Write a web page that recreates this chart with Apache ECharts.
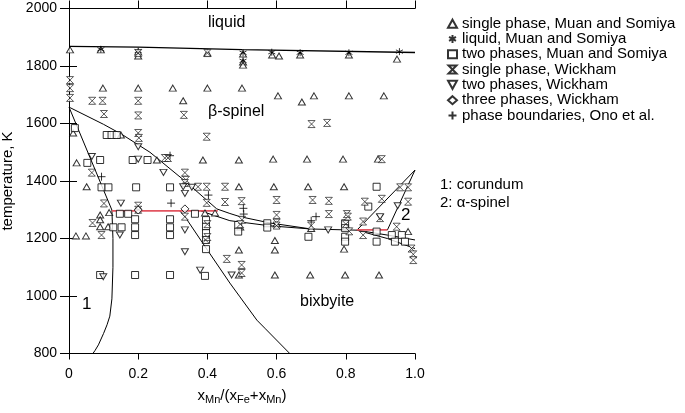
<!DOCTYPE html>
<html><head><meta charset="utf-8">
<script src="https://cdn.jsdelivr.net/npm/echarts@6/dist/echarts.min.js"></script>
<style>html,body{margin:0;padding:0;background:#fff}#c{width:685px;height:413px}</style>
</head><body><div id="c"></div>
<script>
// ---- tick labels ----
const xTicks = [0, 0.2, 0.4, 0.6, 0.8, 1.0];
const xTickLabels = ['0', '0.2', '0.4', '0.6', '0.8', '1.0'];
const yTicks = [800, 1000, 1200, 1400, 1600, 1800, 2000];

// ---- phase boundary lines [x, T] ----
const liquidus = [[0,1868],[0.2,1866],[0.5,1857],[1,1847]];
const betaUpper = [[0,1657],[0.1,1597],[0.153,1562],[0.234,1500],[0.335,1400],[0.427,1303],[0.465,1287],[0.494,1276],[0.581,1254],[0.70,1233],[0.832,1229]];
const lowerBranch = [[0.38,1296],[0.465,1262],[0.581,1244],[0.70,1233]];
const bixbyiteBoundary = [[0.32,1296],[0.335,1276],[0.40,1160],[0.465,1045],[0.494,997],[0.543,916],[0.566,888],[0.638,800]];
const corundumBoundary = [[0,1657],[0.124,1299],[0.127,1200],[0.127,1100],[0.124,990],[0.118,930],[0.11,900],[0.1,870],[0.085,830],[0.075,810],[0.069,800]];
const alphaLeft = [[0.832,1229],[1,1438]];
const alphaRight = [[0.92,1229],[1,1438]];
const rightLowerA = [[0.832,1229],[0.92,1212],[1,1195]];
const rightLowerB = [[0.832,1229],[0.92,1200],[1,1165]];
const redLineLeft = [[0.124,1296],[0.43,1296]];
const redLineRight = [[0.832,1230],[0.92,1230]];

// ---- measured points [x, T] ----
const singleMuan = [[0.003,1856],[0.092,1856],[0.2,1849],[0.2,1835],[0.4,1845],[0.503,1842],[0.503,1814],[0.503,1803],[0.587,1838],[0.607,1835],[0.668,1838],[0.809,1838],[0.948,1824],
[0.098,1723],[0.2,1723],[0.3,1723],[0.4,1723],[0.5,1723],
[0.604,1696],[0.673,1675],[0.708,1696],[0.809,1696],[0.91,1696],[0.33,1679],
[0.012,1567],[0.15,1560],
[0.022,1463],[0.254,1473],[0.387,1473],[0.491,1473],[0.59,1476],[0.688,1476],[0.792,1476],[0.893,1476],
[0.051,1380],[0.491,1380],[0.592,1380],[0.691,1380],[0.795,1380],
[0.09,1282],[0.09,1265],[0.116,1290],[0.09,1241],[0.113,1241],[0.02,1209],[0.049,1209],[0.393,1289],[0.422,1289],
[0.495,1240],[0.6,1250],[0.7,1235],[0.8,1240],[0.98,1224],
[0.491,1160],[0.595,1193],[0.595,1160],[0.795,1163],
[0.491,1073],[0.595,1073],[0.697,1073],[0.798,1073],[0.896,1073]];
const liquidMuan = [[0.092,1858],[0.2,1852],[0.503,1846],[0.503,1818],[0.586,1848],[0.668,1846],[0.809,1846],[0.955,1850]];
const twoMuan = [[0.017,1584],[0.109,1560],[0.123,1560],[0.138,1560],[0.053,1463],[0.09,1473],[0.184,1473],[0.227,1473],
[0.094,1378],[0.114,1378],[0.194,1378],[0.292,1378],
[0.147,1286],[0.171,1286],[0.191,1267],[0.191,1239],[0.191,1212],[0.292,1267],[0.292,1239],[0.292,1212],[0.128,1239],[0.152,1239],[0.364,1286],
[0.396,1264],[0.396,1241],[0.396,1219],[0.396,1195],[0.396,1163],
[0.09,1073],[0.191,1073],[0.292,1073],[0.393,1070],
[0.489,1247],[0.489,1224],[0.573,1253],[0.573,1238],[0.692,1206],[0.798,1253],[0.798,1236],[0.798,1206],[0.798,1189],
[0.889,1380],[0.865,1311],[0.889,1224],[0.889,1189],[0.933,1212],[0.962,1212],[0.942,1189],[0.971,1189]];
const singleWickham = [[0.003,1751],[0.003,1723],[0.003,1689],[0.2,1845],[0.4,1845],
[0.067,1679],[0.097,1679],[0.2,1679],[0.101,1633],[0.2,1628],[0.332,1630],
[0.2,1567],[0.202,1550],[0.398,1554],[0.701,1598],[0.746,1602],
[0.066,1429],[0.335,1429],[0.277,1480],[0.286,1480],[0.904,1476],
[0.101,1322],[0.2,1314],[0.2,1300],[0.338,1404],[0.335,1393],[0.373,1380],[0.398,1380],[0.451,1380],
[0.398,1324],[0.451,1327],[0.499,1330],[0.068,1254],[0.094,1212],[0.335,1276],
[0.4,1250],[0.4,1205],[0.5,1265],[0.495,1250],[0.6,1255],[0.6,1245],[0.7,1245],[0.8,1250],[0.81,1225],
[0.395,1195],[0.456,1129],[0.499,1108],[0.499,1080],
[0.6,1334],[0.704,1334],[0.751,1331],[0.751,1285],[0.803,1285],[0.6,1282],
[0.855,1328],[0.904,1338],[0.957,1378],[0.98,1378],[0.98,1328],[0.947,1241],[0.85,1259],[0.85,1212],[0.806,1276],[0.899,1271],
[0.99,1165],[0.995,1145],[0.995,1125]];
const twoWickham = [[0.066,1485],[0.2,1476],[0.273,1430],[0.15,1323],[0.2,1519],
[0.33,1380],[0.335,1357],[0.355,1378],[0.147,1212],[0.099,1067],[0.335,1230],[0.335,1154],[0.379,1090],[0.47,1073],
[0.749,1230],[0.899,1276],[0.95,1314]];
const threeWickham = [[0.2,1299],[0.335,1303]];
const boundariesOno = [[0.094,1415],[0.295,1323],[0.292,1488],[0.403,1351],[0.504,1305],[0.714,1276],[0.505,1285],[0.7,1262]];

const seriesNames = ['single phase, Muan and Somiya','liquid, Muan and Somiya','two phases, Muan and Somiya','single phase, Wickham','two phases, Wickham','three phases, Wickham','phase boundaries, Ono et al.'];

const FONT = '"Liberation Sans", Arial, Helvetica, sans-serif';
const hollow = {color:'#fff', borderColor:'#000', borderWidth:1};
const thin = {color:'#fff', borderColor:'#000', borderWidth:0.8};
const stroke = {color:'none', borderColor:'#000', borderWidth:1};
const SYM = {
  tri: 'triangle',
  star: 'path://M5,0 L5,10 M0.7,2.5 L9.3,7.5 M0.7,7.5 L9.3,2.5',
  square: 'rect',
  hour: 'path://M0,0 L10,0 L0,10 L10,10 Z',
  inv: 'path://M0,0 L10,0 L5,9 Z',
  dia: 'diamond',
  plus: 'path://M5,0 L5,10 M0,5 L10,5'
};
function scat(name, data, symbol, size, style){
  return {name, type:'scatter', data, symbol, symbolSize:size, itemStyle:style, z:3,
    emphasis:{disabled:true}, silent:true};
}
function line(data, color, width){
  return {type:'line', data, symbol:'none', lineStyle:{color, width}, z:2, silent:true, emphasis:{disabled:true}};
}

const chart = echarts.init(document.getElementById('c'), null, {renderer:'canvas'});
const axisCommon = {axisLine:{lineStyle:{color:'#000', width:1}}, splitLine:{show:false}};
chart.setOption({
  animation:false,
  textStyle:{fontFamily:FONT, color:'#000'},
  grid:{left:69, right:270, top:8.5, bottom:59.5, containLabel:false, outerBoundsMode:'none'},
  xAxis:[
    Object.assign({type:'value', min:0, max:1, interval:0.2, position:'bottom',
      axisTick:{length:6, lineStyle:{color:'#000'}},
      axisLabel:{fontSize:14, color:'#000', margin:14, fontFamily:FONT, formatter:v=>{const i=xTicks.findIndex(t=>Math.abs(t-v)<1e-9);return i>=0?xTickLabels[i]:'';}},
      name:'x{s|Mn}/(x{s|Fe}+x{s|Mn})', nameLocation:'middle', nameGap:33,
      nameTextStyle:{fontSize:15, color:'#000', fontFamily:FONT, rich:{s:{fontSize:11, verticalAlign:'bottom', padding:[8,0,0,0], fontFamily:FONT}}}
    }, axisCommon),
    Object.assign({type:'value', min:0, max:1, interval:0.2, position:'top',
      axisTick:{length:8, lineStyle:{color:'#000'}}, axisLabel:{show:false}}, axisCommon)
  ],
  yAxis:[
    Object.assign({type:'value', min:800, max:2000, interval:200, position:'left',
      axisTick:{length:9, lineStyle:{color:'#000'}},
      axisLabel:{fontSize:14, color:'#000', margin:12, fontFamily:FONT, formatter:v=>String(v)},
      name:'temperature, K', nameLocation:'middle', nameGap:47,
      nameTextStyle:{fontSize:15, color:'#000', fontFamily:FONT}
    }, axisCommon),
    Object.assign({type:'value', min:800, max:2000, interval:200, position:'right',
      axisTick:{length:8, lineStyle:{color:'#000'}}, axisLabel:{show:false}}, axisCommon)
  ],
  legend:{orient:'vertical', left:441, top:11, itemGap:0, itemWidth:9, itemHeight:8,
    selectedMode:false, data:seriesNames,
    textStyle:{fontSize:15, lineHeight:15.3, color:'#000', fontFamily:FONT}},
  series:[
    line(liquidus,'#000',1.3), line(betaUpper,'#000',1), line(lowerBranch,'#000',1),
    line(bixbyiteBoundary,'#000',1), line(corundumBoundary,'#000',1),
    line(alphaLeft,'#000',1), line(alphaRight,'#000',1),
    line(rightLowerA,'#000',1), line(rightLowerB,'#000',1),
    line(redLineLeft,'#e25560',1.8), line(redLineRight,'#e25560',1.8),
    scat(seriesNames[0], singleMuan, SYM.tri, [7,6], hollow),
    scat(seriesNames[1], liquidMuan, SYM.star, 7, stroke),
    scat(seriesNames[2], twoMuan, SYM.square, 7, hollow),
    scat(seriesNames[3], singleWickham, SYM.hour, [7,7], thin),
    scat(seriesNames[4], twoWickham, SYM.inv, [7,6], hollow),
    scat(seriesNames[5], threeWickham, SYM.dia, 8, hollow),
    scat(seriesNames[6], boundariesOno, SYM.plus, 8, stroke)
  ],
  graphic:[
    {type:'text', left:208, top:15, style:{text:'liquid', font:'16px '+FONT, fill:'#000'}},
    {type:'text', left:208, top:104, style:{text:'β-spinel', font:'16px '+FONT, fill:'#000'}},
    {type:'text', left:300, top:294, style:{text:'bixbyite', font:'16px '+FONT, fill:'#000'}},
    {type:'text', left:82, top:296, style:{text:'1', font:'17px '+FONT, fill:'#000'}},
    {type:'text', left:401, top:207, style:{text:'2', font:'17px '+FONT, fill:'#000'}},
    {type:'text', left:440, top:177, style:{text:'1: corundum', font:'15px '+FONT, fill:'#000'}},
    {type:'text', left:440, top:195, style:{text:'2: α-spinel', font:'15px '+FONT, fill:'#000'}}
  ]
});
</script></body></html>
